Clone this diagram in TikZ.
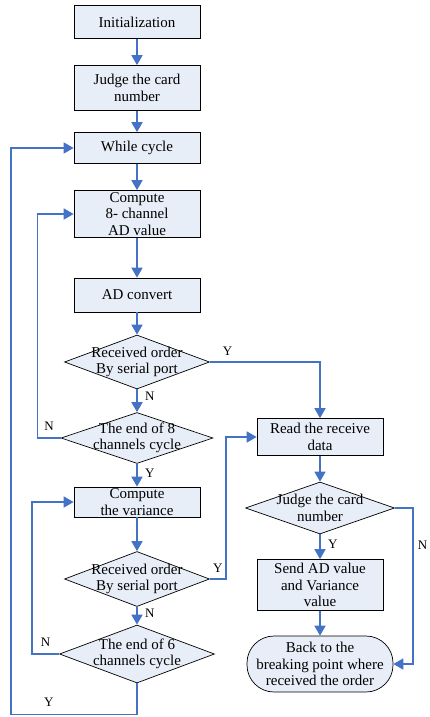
\documentclass[tikz,border=0pt]{standalone}
\usepackage{fontspec}
\setmainfont{Liberation Serif}
\usetikzlibrary{arrows.meta, shapes.geometric}
\definecolor{cflujo}{RGB}{68,114,196}
\definecolor{ccaja}{RGB}{232,238,247}

\begin{document}
\begin{tikzpicture}[x=1pt, y=-1pt, font=\fontsize{15}{16.5}\selectfont,
    >={Triangle[width=11pt,length=10pt]},
    caja/.style={draw, line width=0.7pt, fill=ccaja, minimum width=126pt, inner sep=0pt, align=center},
    rombo/.style={diamond, draw, line width=0.7pt, fill=ccaja, inner sep=0pt, minimum width=148pt, minimum height=54pt},
    rtxt/.style={align=center, inner sep=0pt},
    fin/.style={draw, line width=0.7pt, fill=ccaja, rounded corners=27pt, minimum width=146pt, minimum height=56pt, inner sep=0pt, align=center},
    flujo/.style={->, cflujo, line width=1.6pt},
    yn/.style={font=\fontsize{13}{13}\selectfont, text=black}]
  \useasboundingbox (0,0) rectangle (430,717);

  % columna izquierda
  \node[caja, minimum height=33pt] (init) at (137,22) {Initialization};
  \node[caja, minimum height=45pt] (judge) at (137,88) {Judge the card\\number};
  \node[caja, minimum height=31pt] (while) at (137,148) {While cycle};
  \node[caja, minimum height=47pt] (comp8) at (137,214) {Compute\\8- channel\\AD value};
  \node[caja, minimum height=34pt] (adc) at (137,295) {AD convert};
  \node[rombo, minimum width=145pt, label={[rtxt]center:Received order\\By serial port}] (rcv1) at (137,362) {};
  \node[rombo, minimum width=152pt, minimum height=51pt, label={[rtxt]center:The end of 8\\channels cycle}] (end8) at (137,438) {};
  \node[caja, minimum height=30pt] (var) at (137,502) {Compute\\the variance};
  \node[rombo, minimum width=145pt, minimum height=55pt, label={[rtxt]center:Received order\\By serial port}] (rcv2) at (137,579) {};
  \node[rombo, minimum width=155pt, minimum height=58pt, label={[rtxt]center:The end of 6\\channels cycle}] (end6) at (137,654) {};

  % columna derecha
  \node[caja, minimum height=37pt] (read) at (320,437) {Read the receive\\data};
  \node[rombo, minimum width=149pt, minimum height=52pt, label={[rtxt]center:Judge the card\\number}] (judge2) at (320,508) {};
  \node[caja, minimum height=51pt] (send) at (320,585) {Send AD value\\and Variance\\value};
  \node[fin] (back) at (320,664) {Back to the\\breaking point where\\received the order};

  % flujos
  \draw[flujo] (init) -- (judge);
  \draw[flujo] (judge) -- (while);
  \draw[flujo] (while) -- (comp8);
  \draw[flujo] (comp8) -- (adc);
  \draw[flujo] (adc) -- (rcv1);
  \draw[flujo] (rcv1) -- node[yn, right=4pt, pos=0.3]{N} (end8);
  \draw[flujo] (rcv1.east) -| node[yn, above=2pt, pos=0.08]{Y} (read);
  \draw[flujo] (end8.west) -- node[yn, above=3pt]{N} ++(-23,0) |- (comp8);
  \draw[flujo] (end8) -- node[yn, right=4pt, pos=0.4]{Y} (var);
  \draw[flujo] (var) -- (rcv2);
  \draw[flujo] (rcv2) -- node[yn, right=4pt, pos=0.35]{N} (end6);
  \draw[flujo] (rcv2.east) -- node[yn, above=2pt]{Y} ++(16,0) |- (read);
  \draw[flujo] (end6.west) -- node[yn, above=3pt]{N} ++(-27,0) |- (var);
  \draw[flujo] (end6.south) -- ++(0,31) -- node[yn, above=4pt, pos=0.7]{Y} ++(-126,0) |- (while);
  \draw[flujo] (read) -- (judge2);
  \draw[flujo] (judge2) -- node[yn, right=4pt, pos=0.4]{Y} (send);
  \draw[flujo] (send) -- (back);
  \draw[flujo] (judge2.east) -- ++(18,0) |- node[yn, right=1pt, pos=0.12]{N} (back);
\end{tikzpicture}
\end{document}
